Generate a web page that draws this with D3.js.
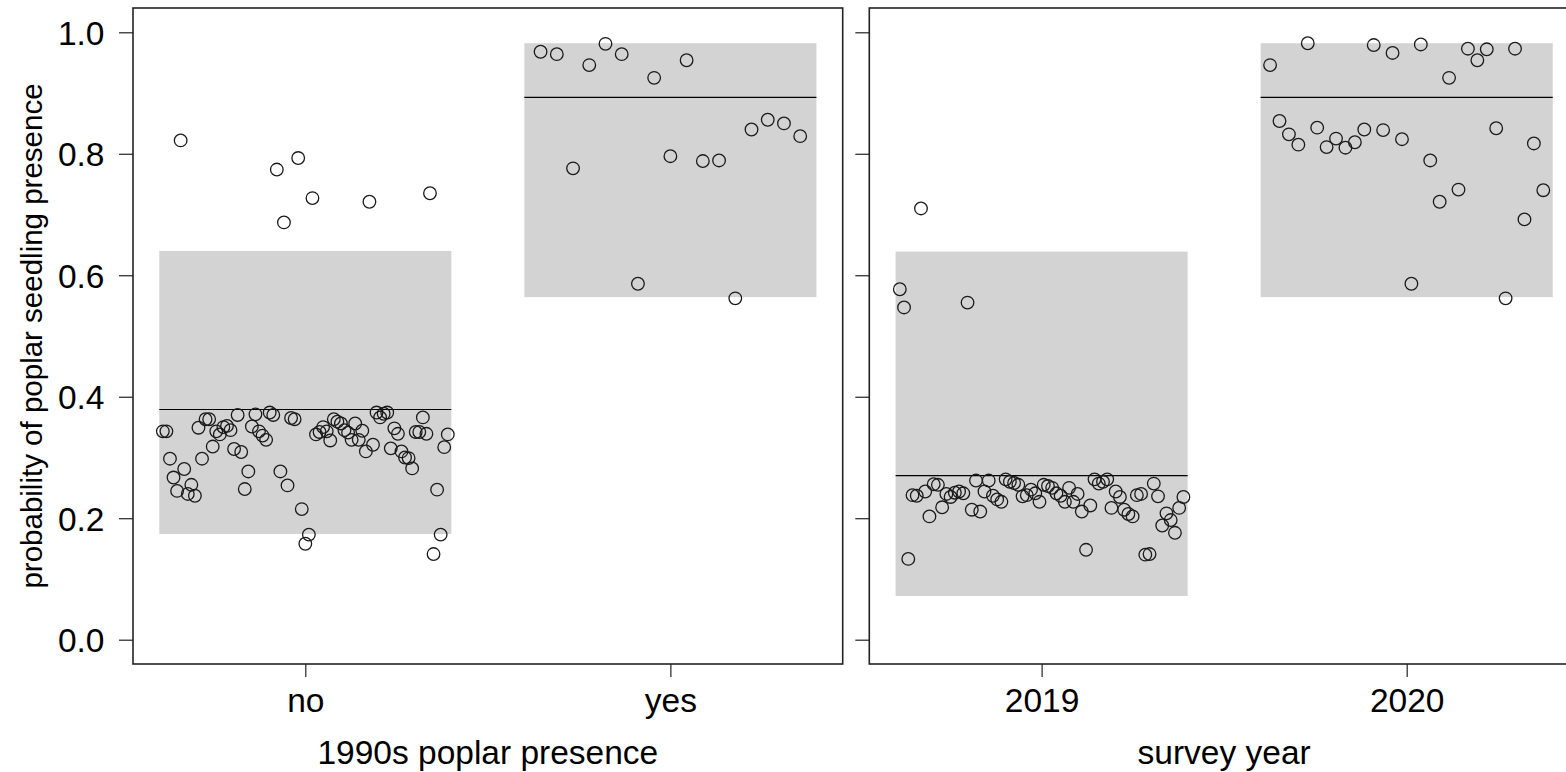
<!DOCTYPE html>
<html>
<head>
<meta charset="utf-8">
<script src="https://cdn.jsdelivr.net/npm/d3@7"></script>
<style>
  html, body { margin: 0; padding: 0; background: #fff; }
  svg { display: block; font-family: "Liberation Sans", Arial, sans-serif; }
</style>
</head>
<body>
<svg id="chart" width="1566" height="772"></svg>
<script>
// Per-site predicted probabilities, ordered as plotted within each group
const presenceNo = [
  0.343, 0.343, 0.298, 0.267, 0.245, 0.822, 0.281, 0.240, 0.255, 0.237,
  0.349, 0.298, 0.363, 0.363, 0.318, 0.343, 0.338, 0.350, 0.352, 0.345,
  0.314, 0.370, 0.309, 0.248, 0.277, 0.351, 0.371, 0.343, 0.336, 0.329,
  0.374, 0.370, 0.774, 0.277, 0.687, 0.254, 0.365, 0.363, 0.793, 0.215,
  0.158, 0.173, 0.727, 0.338, 0.342, 0.350, 0.343, 0.328, 0.363, 0.359,
  0.356, 0.345, 0.341, 0.329, 0.356, 0.329, 0.344, 0.310, 0.721, 0.321,
  0.374, 0.366, 0.372, 0.374, 0.315, 0.348, 0.339, 0.310, 0.300, 0.299,
  0.282, 0.342, 0.342, 0.366, 0.339, 0.735, 0.141, 0.247, 0.173, 0.317,
  0.338
];
const presenceYes = [
  0.968, 0.964, 0.776, 0.946, 0.981, 0.964, 0.586, 0.925, 0.796, 0.954,
  0.788, 0.789, 0.562, 0.840, 0.856, 0.850, 0.829
];
const year2019 = [
  0.577, 0.547, 0.133, 0.238, 0.237, 0.710, 0.244, 0.203, 0.256, 0.255,
  0.218, 0.240, 0.235, 0.242, 0.244, 0.241, 0.555, 0.214, 0.262, 0.211,
  0.244, 0.262, 0.237, 0.231, 0.227, 0.264, 0.260, 0.258, 0.255, 0.236,
  0.238, 0.247, 0.241, 0.227, 0.255, 0.253, 0.250, 0.241, 0.237, 0.227,
  0.250, 0.227, 0.240, 0.211, 0.148, 0.221, 0.264, 0.257, 0.260, 0.264,
  0.217, 0.244, 0.235, 0.214, 0.207, 0.203, 0.238, 0.240, 0.140, 0.141,
  0.257, 0.236, 0.188, 0.208, 0.197, 0.176, 0.217, 0.235
];
const year2020 = [
  0.946, 0.854, 0.832, 0.815, 0.982, 0.843, 0.811, 0.825, 0.810, 0.819,
  0.840, 0.979, 0.839, 0.966, 0.824, 0.586, 0.980, 0.789, 0.721, 0.925,
  0.741, 0.973, 0.954, 0.972, 0.842, 0.562, 0.973, 0.692, 0.817, 0.740
];

// Group estimates: mean with lower / upper interval bounds
const presenceLabels = ["no", "yes"];
const presenceMean  = [0.379, 0.893];
const presenceLower = [0.174, 0.564];
const presenceUpper = [0.640, 0.982];

const yearLabels = ["2019", "2020"];
const yearMean  = [0.270, 0.893];
const yearLower = [0.072, 0.564];
const yearUpper = [0.639, 0.982];

const yTicks = [0, 0.2, 0.4, 0.6, 0.8, 1.0];
const yTitle = "probability of poplar seedling presence";

const panels = [
  { labels: presenceLabels, mean: presenceMean, lower: presenceLower, upper: presenceUpper,
    points: [presenceNo, presenceYes], title: "1990s poplar presence",
    left: 133, right: 842.7, tickLabels: true },
  { labels: yearLabels, mean: yearMean, lower: yearLower, upper: yearUpper,
    points: [year2019, year2020], title: "survey year",
    left: 869.3, right: 1579, tickLabels: false }
];

const svg = d3.select("#chart");
const plotTop = 8, plotBottom = 664;
const y = d3.scaleLinear().domain([-0.04, 1.04]).range([plotBottom, plotTop]);
const halfWidth = 0.4;
const frameColor = "#222";
const labelSize = 33.5;

panels.forEach(p => {
  const x = d3.scaleLinear().domain([0.528, 2.472]).range([p.left, p.right]);
  const g = svg.append("g");

  // interval rectangles and mean lines
  p.labels.forEach((lab, i) => {
    const c = i + 1;
    g.append("rect")
      .attr("x", x(c - halfWidth))
      .attr("y", y(p.upper[i]))
      .attr("width", x(c + halfWidth) - x(c - halfWidth))
      .attr("height", y(p.lower[i]) - y(p.upper[i]))
      .attr("fill", "#d3d3d3");
    g.append("line")
      .attr("x1", x(c - halfWidth)).attr("x2", x(c + halfWidth))
      .attr("y1", y(p.mean[i])).attr("y2", y(p.mean[i]))
      .attr("stroke", "#000").attr("stroke-width", 1.2);
  });

  // site points spread across each group's band
  p.points.forEach((vals, i) => {
    const c = i + 1;
    const spread = d3.scalePoint()
      .domain(d3.range(vals.length))
      .range([c - halfWidth, c + halfWidth])
      .padding(1);
    g.selectAll(null)
      .data(vals)
      .join("circle")
      .attr("cx", (d, k) => x(spread(k)))
      .attr("cy", d => y(d))
      .attr("r", 6.3)
      .attr("fill", "none")
      .attr("stroke", "#1a1a1a")
      .attr("stroke-width", 1.3);
  });

  // frame
  g.append("rect")
    .attr("x", p.left).attr("y", plotTop)
    .attr("width", p.right - p.left).attr("height", plotBottom - plotTop)
    .attr("fill", "none").attr("stroke", frameColor).attr("stroke-width", 1.6);

  // x axis
  const xAxis = d3.axisBottom(x)
    .tickValues([1, 2])
    .tickSize(13)
    .tickFormat((d, i) => p.labels[i]);
  const xg = g.append("g").attr("transform", `translate(0,${plotBottom})`).call(xAxis);
  xg.select(".domain").remove();
  xg.selectAll(".tick line").attr("stroke", frameColor).attr("stroke-width", 1.2);
  xg.selectAll(".tick text")
    .attr("y", 0).attr("dy", null)
    .attr("transform", "translate(0,48)")
    .attr("font-size", labelSize).attr("fill", "#000")
    .attr("font-family", "Liberation Sans, Arial, sans-serif");

  // y axis
  const yAxis = d3.axisLeft(y)
    .tickValues(yTicks)
    .tickSize(14)
    .tickFormat(p.tickLabels ? d3.format(".1f") : () => "");
  const yg = g.append("g").attr("transform", `translate(${p.left},0)`).call(yAxis);
  yg.select(".domain").remove();
  yg.selectAll(".tick line").attr("stroke", frameColor).attr("stroke-width", 1.2);
  yg.selectAll(".tick text")
    .attr("x", -28.5).attr("dy", "0.36em")
    .attr("font-size", labelSize).attr("fill", "#000")
    .attr("font-family", "Liberation Sans, Arial, sans-serif");

  // axis title
  g.append("text")
    .attr("x", (p.left + p.right) / 2)
    .attr("y", 763.5)
    .attr("text-anchor", "middle")
    .attr("font-size", labelSize)
    .text(p.title);
});

svg.append("text")
  .attr("transform", `translate(42,${(plotTop + plotBottom) / 2}) rotate(-90)`)
  .attr("text-anchor", "middle")
  .attr("font-size", 29.5)
  .text(yTitle);
</script>
</body>
</html>
